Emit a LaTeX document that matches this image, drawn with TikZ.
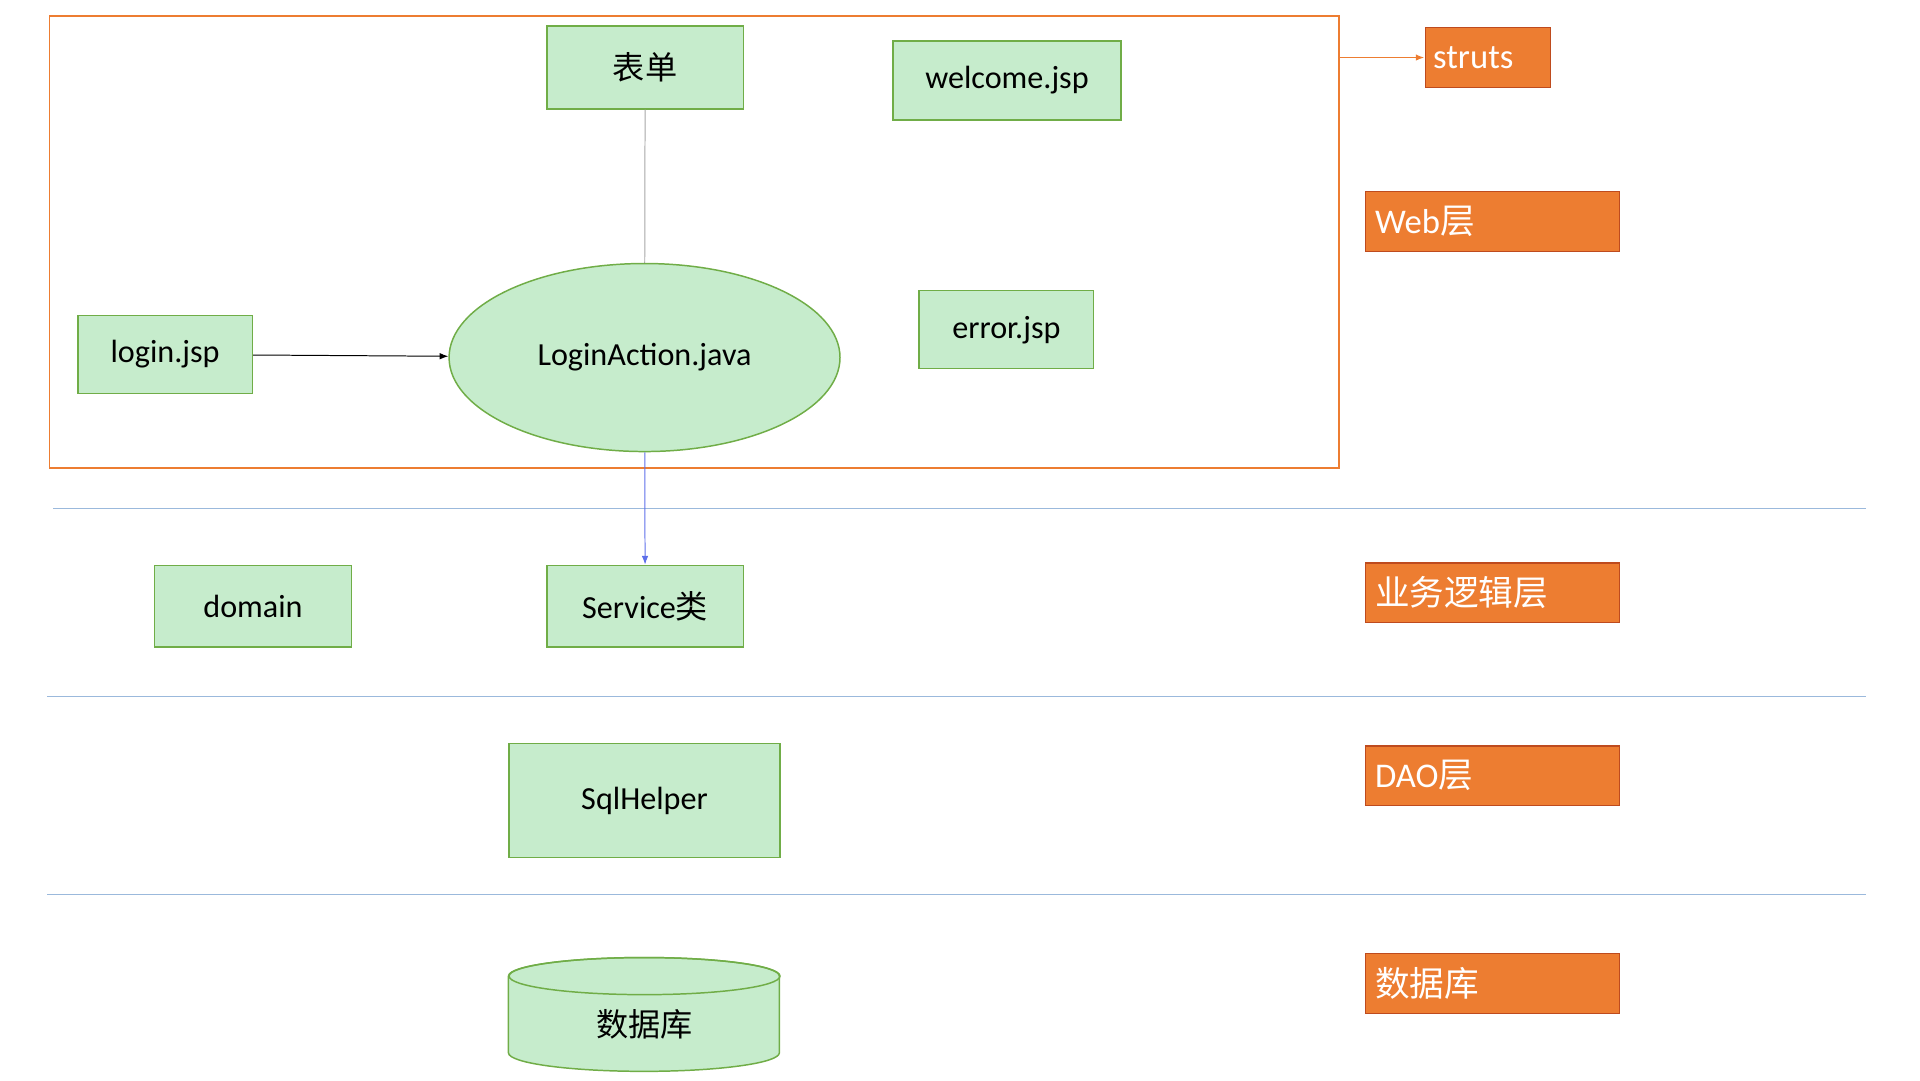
\documentclass[tikz,border=0pt]{standalone}
\usepackage{fontspec}
\setmainfont{Carlito}
\newfontfamily\cjk{Noto Sans CJK SC}
\usetikzlibrary{positioning,shapes.geometric,arrows.meta}
\definecolor{boxfill}{RGB}{198,236,204}
\definecolor{boxline}{RGB}{112,173,71}
\definecolor{layer}{RGB}{237,125,49}
\definecolor{layerline}{RGB}{190,75,30}
\definecolor{sep}{RGB}{155,185,220}
\tikzset{
  cls/.style={draw=boxline,fill=boxfill,line width=1.2pt,font=\fontsize{26}{30}\selectfont,inner sep=0pt},
  tag/.style={draw=layerline,fill=layer,text=white,line width=1pt,font=\fontsize{28}{32}\selectfont,
    minimum width=205pt,minimum height=48pt,align=left,text width=190pt,inner sep=0pt},
}
\begin{document}
\begin{tikzpicture}[x=1pt,y=-1pt]
                \useasboundingbox (0,0) rectangle (1552,873);
                % web layer frame
                \node[draw=layer,line width=1.5pt,minimum width=1042pt,minimum height=365pt,inner sep=0pt] (frame) at (561,195.5) {};

                \node[cls,minimum width=159pt,minimum height=67pt] (form) at (521.5,54.5) {\cjk 表单};
                \node[cls,minimum width=184pt,minimum height=64pt] (welcome) at (814,65) {welcome.jsp};
                \node[cls,minimum width=141pt,minimum height=63pt] (login) at (133.5,286.5) {login.jsp};
                \node[cls,ellipse,minimum width=316pt,minimum height=152pt] (action) at (521,289) {LoginAction.java};
                \node[cls,minimum width=141pt,minimum height=63pt] (error) at (813.5,266.5) {error.jsp};

                \node[cls,minimum width=159pt,minimum height=66pt] (domain) at (204.5,490) {domain};
                \node[cls,minimum width=159pt,minimum height=66pt] (service) at (521.5,490) {Service{\cjk 类}};
                \node[cls,minimum width=219pt,minimum height=92pt] (sql) at (521,647) {SqlHelper};

                % database cylinder
                \filldraw[draw=boxline,fill=boxfill,line width=1.2pt]
                  (411,789) -- (411,851) arc[start angle=180,end angle=0,x radius=109.5,y radius=15]
                  -- (630,789) arc[start angle=0,end angle=-180,x radius=109.5,y radius=15];
                \draw[boxline,line width=1.2pt] (521,789) ellipse[x radius=109.5,y radius=15];
                \node[font=\fontsize{26}{30}\selectfont] (db) at (521,828) {\cjk 数据库};

                % layer tags
                \node[tag,minimum width=101pt,text width=88pt] (struts) at (1202.5,46.5) {struts};
                \node[tag] (web) at (1206.5,179) {Web{\cjk 层}};
                \node[tag] (biz) at (1206.5,479) {\cjk 业务逻辑层};
                \node[tag] (dao) at (1206.5,627) {DAO{\cjk 层}};
                \node[tag] (dbtag) at (1206.5,795) {\cjk 数据库};

                % separators
                \draw[sep,line width=1pt] (43,411) -- (1508,411);
                \draw[sep,line width=1pt] (38,563) -- (1508,563);
                \draw[sep,line width=1pt] (38,723) -- (1508,723);

                % connectors
                \draw[gray!70,line width=0.8pt] (form) -- (action);
                \draw[-{Latex[length=7pt]},line width=0.8pt] (login) -- (action);
                \draw[sep!60!blue,-{Latex[length=7pt]},line width=0.8pt] (action) -- (service);
                \draw[layer,-{Latex[length=7pt]},line width=1.5pt] (frame.east |- struts) -- (struts);
\end{tikzpicture}
\end{document}
